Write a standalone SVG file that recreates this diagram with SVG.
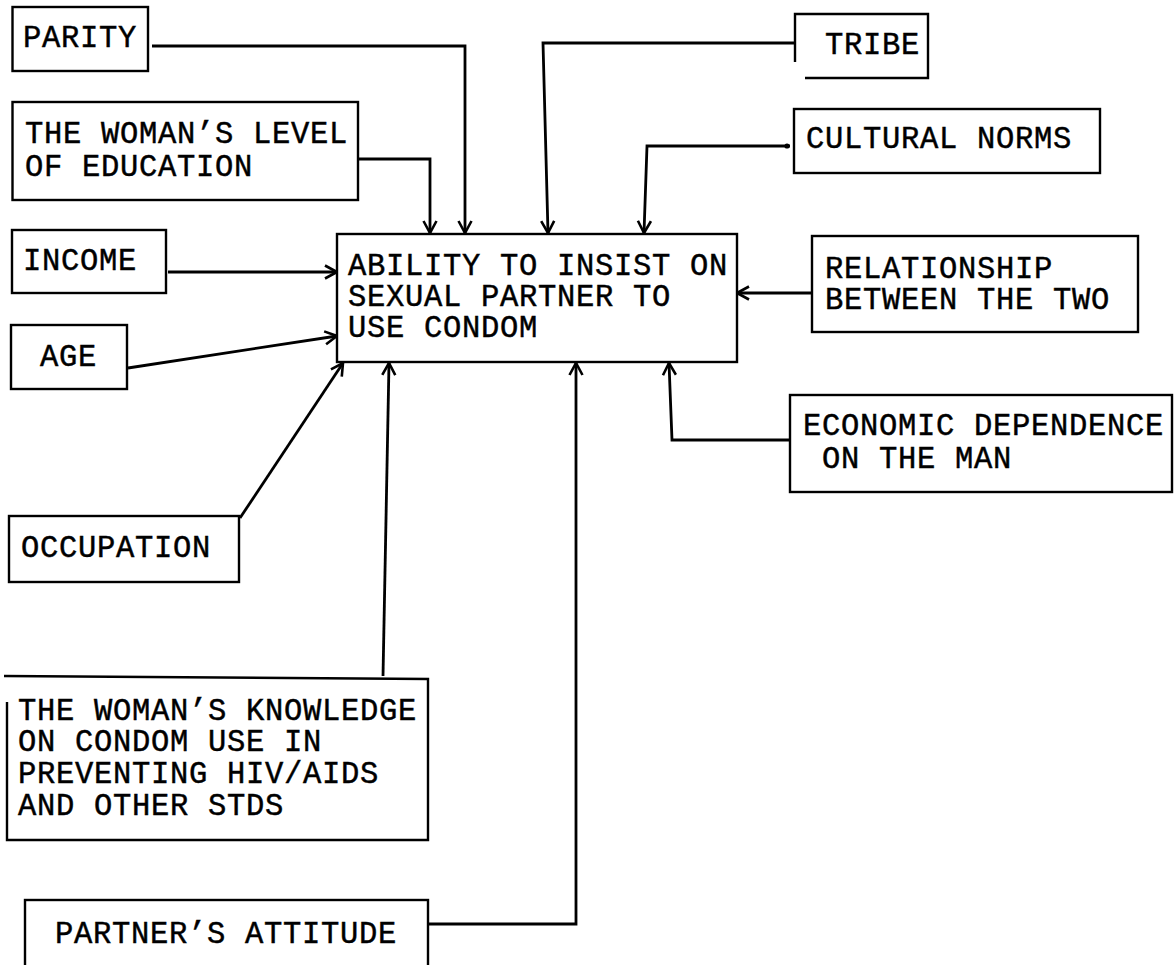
<svg xmlns="http://www.w3.org/2000/svg" width="1175" height="965" viewBox="0 0 1175 965">
<style>
  .box { fill: none; stroke: #000; stroke-width: 2.4; }
  .lbl { font-family: "Liberation Mono", "Courier New", monospace; font-size: 30.5px; letter-spacing: 0.7px; fill: #000; stroke: #000; stroke-width: 0.45; }
  .con { fill: none; stroke: #000; stroke-width: 2.8; marker-end: url(#arr); }
</style>
<defs>
  <marker id="arr" viewBox="0 0 14 16" refX="13" refY="8" markerWidth="14" markerHeight="16" markerUnits="userSpaceOnUse" orient="auto">
    <path d="M1,1.5 L13,8 L1,14.5" fill="none" stroke="#000" stroke-width="2.6"/>
  </marker>
</defs>
<rect width="1175" height="965" fill="#fff"/>

<g id="connectors">
  <path class="con" d="M152,46 H465 V233"/>
  <path class="con" d="M358,159 H430 V233"/>
  <path class="con" d="M795,43 H543 L548,233"/>
  <path class="con" d="M790,146 H647 L644,233"/>
  <circle cx="787" cy="146" r="2.6" fill="#000"/>
  <path class="con" d="M168,272 H337"/>
  <path class="con" d="M128,368 L337,336"/>
  <path class="con" d="M240,518 L343,363"/>
  <path class="con" d="M383,676 L389,363"/>
  <path class="con" d="M429,924 H576 V363"/>
  <path class="con" d="M790,440 H672 L669,363"/>
  <path class="con" d="M812,293 H737"/>
</g>

<g id="parity">
  <rect class="box" x="12.5" y="7" width="135.5" height="64"/>
  <text class="lbl" x="23" y="47">PARITY</text>
</g>
<g id="education">
  <rect class="box" x="12.5" y="102" width="345.5" height="98"/>
  <text class="lbl" x="25" y="143">THE WOMAN’S LEVEL</text>
  <text class="lbl" x="25" y="176">OF EDUCATION</text>
</g>
<g id="income">
  <rect class="box" x="12" y="230" width="154" height="63"/>
  <text class="lbl" x="23" y="270">INCOME</text>
</g>
<g id="age">
  <rect class="box" x="11" y="325" width="116" height="64"/>
  <text class="lbl" x="40" y="366">AGE</text>
</g>
<g id="occupation">
  <rect class="box" x="9" y="516" width="230" height="66"/>
  <text class="lbl" x="21" y="557">OCCUPATION</text>
</g>
<g id="knowledge">
  <path class="box" d="M4,676 L428,679 V840 H7 V702"/>
  <text class="lbl" x="18" y="720">THE WOMAN’S KNOWLEDGE</text>
  <text class="lbl" x="18" y="751">ON CONDOM USE IN</text>
  <text class="lbl" x="18" y="783">PREVENTING HIV/AIDS</text>
  <text class="lbl" x="18" y="815">AND OTHER STDS</text>
</g>
<g id="partner">
  <rect class="box" x="25" y="900" width="403" height="75"/>
  <text class="lbl" x="55" y="943">PARTNER’S ATTITUDE</text>
</g>
<g id="central">
  <rect class="box" x="337" y="234" width="400" height="128"/>
  <text class="lbl" x="348" y="275">ABILITY TO INSIST ON</text>
  <text class="lbl" x="348" y="306">SEXUAL PARTNER TO</text>
  <text class="lbl" x="348" y="337">USE CONDOM</text>
</g>
<g id="tribe">
  <path class="box" d="M795,62 V14 H928 V78 H805"/>
  <text class="lbl" x="825" y="54">TRIBE</text>
</g>
<g id="cultural">
  <rect class="box" x="794" y="109" width="306" height="64"/>
  <text class="lbl" x="806" y="148">CULTURAL NORMS</text>
</g>
<g id="relationship">
  <rect class="box" x="812" y="236" width="326" height="96"/>
  <text class="lbl" x="825" y="278">RELATIONSHIP</text>
  <text class="lbl" x="825" y="309">BETWEEN THE TWO</text>
</g>
<g id="economic">
  <rect class="box" x="790" y="395" width="382" height="97"/>
  <text class="lbl" x="803" y="435">ECONOMIC DEPENDENCE</text>
  <text class="lbl" x="803" y="468" xml:space="preserve"> ON THE MAN</text>
</g>
</svg>
